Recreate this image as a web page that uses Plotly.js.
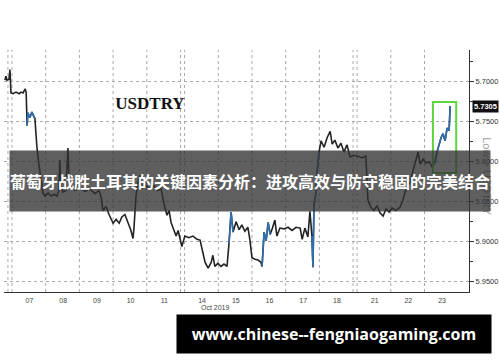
<!DOCTYPE html>
<html>
<head>
<meta charset="utf-8">
<script src="https://cdn.plot.ly/plotly-3.0.1.min.js"></script>
<style>
  html, body { margin: 0; padding: 0; background: #fff; }
  #chart { width: 500px; height: 362px; }
</style>
</head>
<body>
<div id="chart"></div>
<script>
// Trading-time position (in trading days from the open of Mon 07 Oct; weekends take 0.12)
const t = [-0.21,-0.18,-0.15,-0.09,-0.06,-0.03,0.03,0.12,0.21,0.27,0.33,0.39,0.42,0.45,0.47,0.53,0.59,0.65,0.68,0.71,
  0.74,0.80,0.86,0.92,0.98,1.07,1.16,1.25,1.34,1.39,1.42,1.45,1.51,1.60,1.66,1.69,1.75,1.87,2.02,2.17,
  2.31,2.46,2.58,2.64,2.70,2.79,2.88,3.00,3.09,3.18,3.26,3.35,3.44,3.53,3.59,3.62,3.68,3.74,3.80,3.86,
  3.98,4.09,4.21,4.33,4.42,4.48,4.54,4.60,4.66,4.72,4.78,4.87,4.93,4.99,5.04,5.13,5.25,5.37,5.49,5.58,
  5.67,5.73,5.82,5.91,5.96,6.02,6.11,6.20,6.29,6.38,6.44,6.50,6.56,6.65,6.74,6.82,6.91,7.00,7.06,7.12,
  7.21,7.30,7.39,7.42,7.48,7.54,7.60,7.66,7.72,7.80,7.86,7.95,8.07,8.19,8.31,8.43,8.55,8.61,8.69,8.78,
  8.84,8.90,8.93,8.96,9.02,9.05,9.11,9.17,9.26,9.35,9.44,9.50,9.58,9.67,9.76,9.85,9.94,10.03,10.15,10.27,
  10.39,10.50,10.56,10.65,10.74,10.83,10.92,11.01,11.10,11.19,11.28,11.39,11.51,11.60,11.66,11.72,11.81,11.90,11.99,12.05,
  12.11,12.20,12.28,12.37,12.46,12.55,12.61,12.67,12.73,12.79,12.85,12.91,12.97,13.00];

// USDTRY quotes
const usdtry = [5.698,5.693,5.698,5.697,5.685,5.714,5.715,5.713,5.715,5.713,5.714,5.709,5.713,5.755,5.739,5.745,5.738,5.744,5.746,5.764,
  5.782,5.804,5.823,5.839,5.843,5.839,5.843,5.841,5.843,5.836,5.798,5.829,5.838,5.836,5.783,5.817,5.830,5.836,5.833,5.837,
  5.834,5.840,5.836,5.843,5.861,5.856,5.866,5.877,5.872,5.877,5.869,5.866,5.876,5.886,5.896,5.883,5.842,5.826,5.817,5.833,
  5.830,5.834,5.830,5.836,5.833,5.848,5.858,5.867,5.861,5.876,5.883,5.893,5.886,5.898,5.906,5.893,5.895,5.893,5.897,5.898,
  5.914,5.926,5.933,5.926,5.917,5.931,5.927,5.931,5.928,5.931,5.902,5.863,5.888,5.875,5.885,5.879,5.887,5.882,5.898,5.920,
  5.922,5.923,5.926,5.931,5.888,5.899,5.876,5.891,5.884,5.873,5.893,5.883,5.884,5.882,5.886,5.882,5.883,5.897,5.883,5.894,
  5.862,5.893,5.932,5.854,5.838,5.814,5.788,5.774,5.782,5.770,5.762,5.778,5.773,5.783,5.777,5.788,5.779,5.794,5.792,5.794,
  5.795,5.793,5.848,5.857,5.861,5.855,5.864,5.868,5.859,5.863,5.858,5.861,5.857,5.848,5.838,5.833,5.826,5.811,5.798,5.788,
  5.803,5.797,5.802,5.800,5.806,5.801,5.788,5.779,5.770,5.765,5.774,5.758,5.761,5.7305];

const lastQuote = 5.7305;

// Day labels and where each trading day opens on the time scale
const dayLabels = ['07','08','09','10','11','14','15','16','17','18','21','22','23'];
const dayStarts = [0, 1, 2, 3, 4, 5.12, 6.12, 7.12, 8.12, 9.12, 10.24, 11.24, 12.24];
const weekendCloses = [-0.12, 5.0, 10.12];

const yTicks = [5.70, 5.75, 5.80, 5.85, 5.90, 5.95];

// stretches drawn in blue
const blueStretches = [[0.45, 0.68], [6.44, 6.56], [7.42, 7.66], [8.88, 9.12], [12.45, 13.0]];
const inBlue = v => blueStretches.some(r => v >= r[0] && v <= r[1]);

const traces = [
  {
    x: t, y: usdtry, type: 'scatter', mode: 'lines',
    line: { color: '#222222', width: 1.6 }, hoverinfo: 'skip', showlegend: false
  },
  {
    x: t, y: usdtry.map((v, i) => inBlue(t[i]) ? v : null), type: 'scatter', mode: 'lines',
    line: { color: '#2f6fae', width: 1.6 }, connectgaps: false, hoverinfo: 'skip', showlegend: false
  }
];

// vertical dotted session separators
const gridX = dayStarts.concat(weekendCloses);
const shapes = gridX.map(v => ({
  type: 'line', xref: 'x', yref: 'paper', x0: v, x1: v, y0: 0, y1: 1,
  line: { color: '#a8a8a8', width: 1, dash: 'dot' }, layer: 'below'
}));

// highlight box around the final leg
const legT = t.filter(v => v >= 12.45);
const legP = usdtry.filter((v, i) => t[i] >= 12.45);
shapes.push({
  type: 'rect', xref: 'x', yref: 'y',
  x0: Math.min(...legT) + 0.03, x1: Math.max(...legT) + 0.18,
  y0: Math.min(...legP) - 0.005, y1: Math.max(...legP) + 0.008,
  line: { color: '#5cd63c', width: 2 }, fillcolor: 'rgba(0,0,0,0)', layer: 'above'
});

const layout = {
  width: 500, height: 362,
  margin: { l: 4, r: 31, t: 50, b: 70 },
  paper_bgcolor: '#ffffff', plot_bgcolor: '#ffffff',
  showlegend: false,
  title: {
    text: '<b>USDTRY</b>', x: 0.30, xanchor: 'center', y: 0.7155, yanchor: 'middle',
    xref: 'container', yref: 'container',
    font: { family: 'Liberation Serif, serif', size: 17, color: '#111' }
  },
  xaxis: {
    range: [-0.237, 13.56], showgrid: false, zeroline: false,
    showline: true, linecolor: '#333', linewidth: 1,
    tickvals: dayStarts.map(v => v + 0.52), ticktext: dayLabels,
    ticks: '', ticklabelstandoff: 2,
    tickfont: { family: 'Liberation Sans, sans-serif', size: 7, color: '#444' },
    fixedrange: true
  },
  yaxis: {
    range: [5.9629, 5.6604], side: 'right', zeroline: false,
    showline: true, linecolor: '#333', linewidth: 1,
    tickvals: yTicks, tickformat: '.4f',
    ticks: 'outside', ticklen: 4, tickcolor: '#333',
    minor: { dtick: 0.025, tick0: 5.70, ticks: 'outside', ticklen: 3, tickcolor: '#333', showgrid: false },
    showgrid: true, gridcolor: '#a8a8a8', griddash: 'dot', gridwidth: 1,
    tickfont: { family: 'Liberation Sans, sans-serif', size: 7.5, color: '#333' },
    automargin: false, fixedrange: true
  },
  shapes: shapes,
  annotations: [
    {
      text: 'Low > USDTRY', xref: 'paper', yref: 'paper', x: 1.04, y: 0.48,
      xanchor: 'center', yanchor: 'middle', textangle: 90, showarrow: false,
      font: { family: 'Liberation Sans, sans-serif', size: 11, color: '#a0a0a0' }
    },
    {
      text: '<b>' + lastQuote.toFixed(4) + '</b>', xref: 'paper', yref: 'y', x: 1, y: lastQuote,
      xanchor: 'left', yanchor: 'middle', xshift: 3, showarrow: false,
      bgcolor: '#111', borderpad: 1,
      font: { family: 'Liberation Sans, sans-serif', size: 7.5, color: '#fff' }
    },
    {
      text: 'Oct 2019', xref: 'paper', yref: 'paper', x: 0.4538, y: -0.062,
      xanchor: 'center', yanchor: 'middle', showarrow: false,
      font: { family: 'Liberation Sans, sans-serif', size: 7, color: '#444' }
    },
    {
      text: '<b>葡萄牙战胜土耳其的关键因素分析：进攻高效与防守稳固的完美结合</b>',
      xref: 'paper', yref: 'paper', x: 0.529, y: 0.4587,
      xanchor: 'center', yanchor: 'middle', showarrow: false,
      width: 480, height: 60, align: 'left', valign: 'middle', borderpad: 0,
      bgcolor: 'rgba(50,50,50,0.78)',
      font: { family: 'Noto Sans CJK SC, sans-serif', size: 16, color: '#fff' }
    },
    {
      text: '<b>www.chinese--fengniaogaming.com</b>',
      xref: 'paper', yref: 'paper', x: 0.7097, y: -0.1736,
      xanchor: 'center', yanchor: 'middle', showarrow: false,
      width: 314, height: 38, align: 'center', valign: 'middle', borderpad: 0,
      bgcolor: '#000',
      font: { family: 'Open Sans, sans-serif', size: 16, color: '#fff' }
    }
  ]
};

Plotly.newPlot('chart', traces, layout, { staticPlot: true, displayModeBar: false });
</script>
</body>
</html>
